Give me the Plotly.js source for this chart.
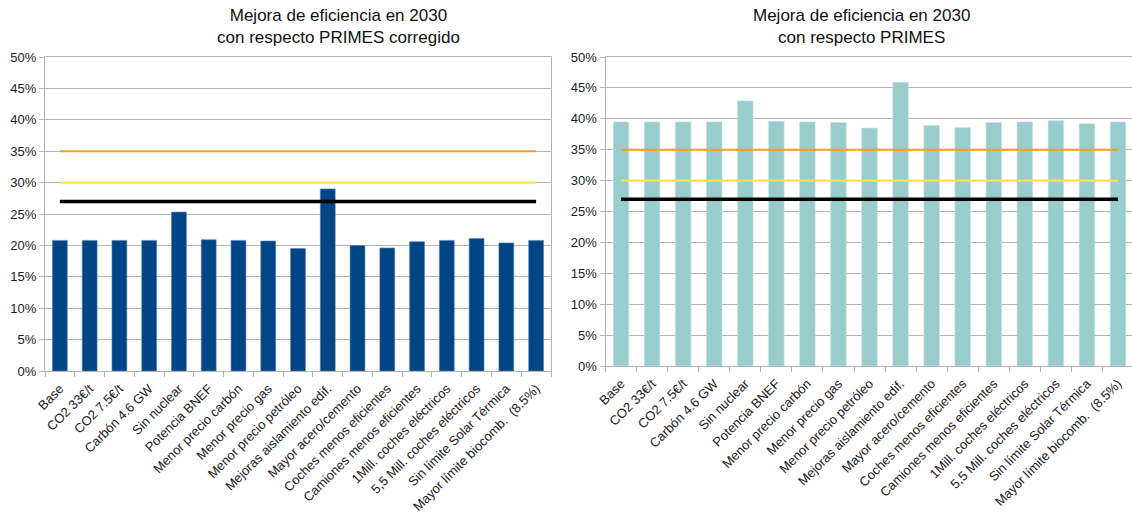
<!DOCTYPE html>
<html>
<head>
<meta charset="utf-8">
<script src="https://cdn.plot.ly/plotly-3.0.1.min.js"></script>
<style>html,body{margin:0;padding:0;background:#fff;}#chart{width:1132px;height:521px;}</style>
</head>
<body>
<div id="chart"></div>
<script>
const categories = ["Base", "CO2 33€/t", "CO2 7.5€/t", "Carbón 4.6 GW", "Sin nuclear", "Potencia BNEF",
  "Menor precio carbón", "Menor precio gas", "Menor precio petróleo", "Mejoras aislamiento edif.",
  "Mayor acero/cemento", "Coches menos eficientes", "Camiones menos eficientes", "1Mill. coches eléctricos",
  "5,5 Mill. coches eléctricos", "Sin límite Solar Térmica", "Mayor límite biocomb.  (8.5%)"];
const primesCorregido = [0.208, 0.208, 0.208, 0.208, 0.253, 0.209, 0.208, 0.207, 0.195, 0.290,
  0.200, 0.196, 0.206, 0.208, 0.211, 0.204, 0.208];
const primes = [0.395, 0.395, 0.395, 0.395, 0.429, 0.396, 0.395, 0.394, 0.385, 0.459,
  0.389, 0.386, 0.394, 0.395, 0.397, 0.392, 0.395];
const objetivo35 = 0.35;
const objetivo30 = 0.30;
const objetivo27 = 0.27;
const yTickVals = [0, 0.05, 0.10, 0.15, 0.20, 0.25, 0.30, 0.35, 0.40, 0.45, 0.50];
const yTickText = ["0%", "5%", "10%", "15%", "20%", "25%", "30%", "35%", "40%", "45%", "50%"];
const titleLeft = "Mejora de eficiencia en 2030<br>con respecto PRIMES corregido";
const titleRight = "Mejora de eficiencia en 2030<br>con respecto PRIMES";

const W = 1132, H = 521;
const px = v => v / W;
const py = v => 1 - v / H;
const ends = [categories[0], categories[categories.length - 1]];

function lineTrace(level, color, width, xa, ya) {
  return {type: 'scatter', mode: 'lines', x: ends, y: [level, level], xaxis: xa, yaxis: ya,
    line: {color: color, width: width}, hoverinfo: 'skip', showlegend: false};
}

const traces = [
  {type: 'bar', x: categories, y: primesCorregido, xaxis: 'x', yaxis: 'y',
    marker: {color: '#004586', line: {color: '#5b82ad', width: 0.6}}, showlegend: false},
  lineTrace(objetivo35, '#ff9a1f', 2, 'x', 'y'),
  lineTrace(objetivo30, '#ffe14a', 2.2, 'x', 'y'),
  lineTrace(objetivo27, '#000000', 3.5, 'x', 'y'),
  {type: 'bar', x: categories, y: primes, xaxis: 'x2', yaxis: 'y2',
    marker: {color: '#99cccc', line: {color: '#c4e2e2', width: 0.6}}, showlegend: false},
  lineTrace(objetivo35, '#ff9a1f', 2, 'x2', 'y2'),
  lineTrace(objetivo30, '#ffe14a', 2.2, 'x2', 'y2'),
  lineTrace(objetivo27, '#000000', 3.5, 'x2', 'y2')
];

const tickFont = {family: 'Liberation Sans, Arial, sans-serif', size: 13, color: '#222'};
function xAxis(domain, range, anchor) {
  return {domain: domain, anchor: anchor, type: 'category', range: range, dtick: 1,
    tickangle: -45, tickfont: tickFont, ticks: 'outside', tickson: 'boundaries', ticklen: 5,
    tickcolor: '#b3b3b3', showline: true, linecolor: '#b3b3b3', linewidth: 1, mirror: true,
    showgrid: false, zeroline: false, fixedrange: true, automargin: false, ticklabelstandoff: 4};
}
function yAxis(domain, anchor) {
  return {domain: domain, anchor: anchor, range: [0, 0.5], tickmode: 'array', tickvals: yTickVals,
    ticktext: yTickText, tickfont: {family: 'Liberation Sans, Arial, sans-serif', size: 13, color: '#222'},
    ticks: 'outside', ticklen: 5, tickcolor: '#b3b3b3', showline: true, linecolor: '#b3b3b3',
    linewidth: 1, mirror: true, showgrid: true, gridcolor: '#b3b3b3', gridwidth: 1, zeroline: false,
    fixedrange: true, automargin: false, ticklabelstandoff: 0};
}

const titleFont = {family: 'Liberation Sans, Arial, sans-serif', size: 17, color: '#111'};
const layout = {
  width: W, height: H, margin: {l: 0, r: 0, t: 0, b: 0},
  paper_bgcolor: '#fff', plot_bgcolor: '#fff', bargap: 0.5, showlegend: false,
  xaxis: xAxis([px(45), px(551)], [-0.5, 16.5], 'y'),
  yaxis: yAxis([py(371), py(57)], 'x'),
  xaxis2: xAxis([px(605.5), 1], [-0.5, 16.45], 'y2'),
  yaxis2: yAxis([py(366), py(57)], 'x2'),
  annotations: [
    {text: titleLeft, xref: 'paper', yref: 'paper', x: px(338), y: py(27), xanchor: 'center', yanchor: 'middle',
      showarrow: false, font: titleFont, align: 'center'},
    {text: titleRight, xref: 'paper', yref: 'paper', x: px(861), y: py(27), xanchor: 'center', yanchor: 'middle',
      showarrow: false, font: titleFont, align: 'center'}
  ]
};

Plotly.newPlot('chart', traces, layout, {displayModeBar: false, staticPlot: true});
</script>
</body>
</html>
